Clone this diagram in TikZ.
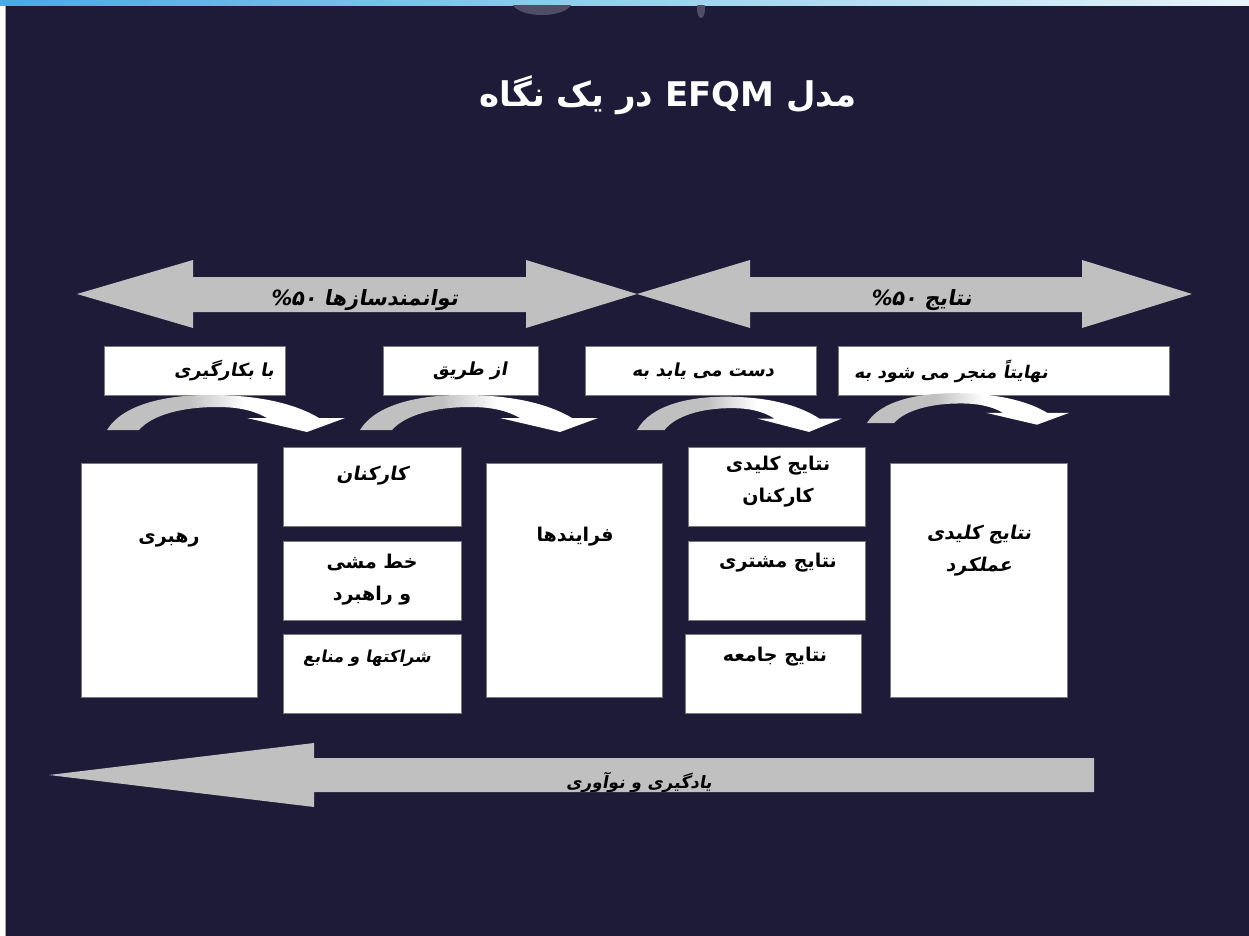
\documentclass[tikz,border=0pt]{standalone}
\usepackage{fontspec}
\TeXXeTstate=1
\newfontfamily\fa[Script=Arabic]{DejaVu Sans}
\newfontfamily\fait[Script=Arabic,FakeSlant=0.18]{DejaVu Sans}
\definecolor{bgnavy}{RGB}{30,27,56}
\definecolor{silv}{RGB}{192,192,192}
\definecolor{boxgray}{RGB}{120,120,120}
\definecolor{topblue}{RGB}{70,172,226}
\definecolor{toplight}{RGB}{232,244,250}
\definecolor{blobgray}{RGB}{80,78,100}
\pgfdeclarehorizontalshading{curvsh}{100bp}{color(0bp)=(silv); color(42bp)=(silv); color(54bp)=(white); color(100bp)=(white)}
\newcommand\curvarrow[4]{%
  \begin{scope}[shift={(#1,#2)},xscale=#3,yscale=#4]
    \shade[shading=curvsh] (0,0) .. controls (16,-26) and (60,-36) .. (110,-35)
      .. controls (160,-34) and (192,-24) .. (212,-12) -- (238,-12) -- (200,2)
      -- (140,-12) -- (160,-12) .. controls (146,-20) and (130,-23) .. (110,-23)
      .. controls (75,-23) and (45,-15) .. (32,0) -- cycle;
  \end{scope}}
\begin{document}
\begin{tikzpicture}[x=1pt,y=-1pt,
  lbox/.style={draw=boxgray, line width=1pt, fill=white, inner sep=0pt, anchor=north west},
  ltext/.style={text=black, inner sep=0pt, font={\fait\bfseries\fontsize{18}{20}\selectfont}},
  mtext/.style={text=black, inner sep=0pt, align=center, font={\fa\bfseries\fontsize{19}{32}\selectfont}},
  mtextit/.style={text=black, inner sep=0pt, align=center, font={\fait\bfseries\fontsize{19}{32}\selectfont}},
  atext/.style={text=black, inner sep=0pt, font={\fait\bfseries\fontsize{21}{24}\selectfont}}]
\useasboundingbox (0,0) rectangle (1249,936);
% background
\fill[white] (0,0) rectangle (1249,936);
\shade[left color=topblue, right color=toplight] (0,0) rectangle (1249,6);
\fill[bgnavy] (5,6) rectangle (1249,936);
\draw[gray!70, line width=1pt] (5,6) -- (5,936);
\begin{scope}
  \clip (6,6) rectangle (1249,40);
  \fill[blobgray] (542,2) ellipse [x radius=30, y radius=13];
  \fill[blobgray] (701,9) ellipse [x radius=4, y radius=9];
\end{scope}
% title
\node[text=white, inner sep=0pt, font={\fa\bfseries\fontsize{34}{40}\selectfont}] (title) at (668,95)
  {\beginR مدل \beginL EFQM\endL{} در یک نگاه\endR};
% big double arrows
\fill[silv] (77,294) -- (193,260) -- (193,277) -- (526,277) -- (526,260) -- (637,294)
  -- (526,328) -- (526,312) -- (193,312) -- (193,328) -- cycle;
\fill[silv] (637,294) -- (750,260) -- (750,277) -- (1082,277) -- (1082,260) -- (1192,294)
  -- (1082,328) -- (1082,312) -- (750,312) -- (750,328) -- cycle;
\node[atext] (enab) at (364,300) {\beginR توانمندسازها \beginL\%۵۰\endL\endR};
\node[atext] (resl) at (921,300) {\beginR نتایج \beginL\%۵۰\endL\endR};
% label boxes
\node[lbox, minimum width=181pt, minimum height=49pt] (b1) at (104,346) {};
\node[lbox, minimum width=155pt, minimum height=49pt] (b2) at (383,346) {};
\node[lbox, minimum width=231pt, minimum height=49pt] (b3) at (585,346) {};
\node[lbox, minimum width=331pt, minimum height=49pt] (b4) at (838,346) {};
\node[ltext] (t1) at (224,371) {\beginR با بکارگیری\endR};
\node[ltext] (t2) at (470,371) {\beginR از طریق\endR};
\node[ltext] (t3) at (703,371) {\beginR دست می یابد به\endR};
\node[ltext, font={\fait\bfseries\fontsize{17.5}{20}\selectfont}] (t4) at (951,371) {\beginR نهایتاً منجر می شود به\endR};
% curved arrows
\curvarrow{107}{430}{1}{1}
\curvarrow{360}{430}{1}{1}
\curvarrow{637}{430}{0.86}{0.95}
\curvarrow{867}{423}{0.85}{0.85}
% main boxes
\node[lbox, minimum width=176pt, minimum height=234pt] (lead) at (81,463) {};
\node[lbox, minimum width=178pt, minimum height=79pt] (peop) at (283,447) {};
\node[lbox, minimum width=178pt, minimum height=79pt] (poli) at (283,541) {};
\node[lbox, minimum width=178pt, minimum height=79pt] (part) at (283,634) {};
\node[lbox, minimum width=176pt, minimum height=234pt] (proc) at (486,463) {};
\node[lbox, minimum width=177pt, minimum height=79pt] (pres) at (688,447) {};
\node[lbox, minimum width=177pt, minimum height=79pt] (cres) at (688,541) {};
\node[lbox, minimum width=176pt, minimum height=79pt] (sres) at (685,634) {};
\node[lbox, minimum width=177pt, minimum height=234pt] (kpr) at (890,463) {};
\node[mtext] (tlead) at (169,540) {\beginR رهبری\endR};
\node[mtextit] (tpeop) at (372,476) {\beginR کارکنان\endR};
\node[mtext] (tpoli) at (372,580) {\beginR خط مشی\endR\\\beginR و راهبرد\endR};
\node[mtextit, font={\fait\bfseries\fontsize{16.5}{20}\selectfont}] (tpart) at (367,658) {\beginR شراکتها و منابع\endR};
\node[mtext] (tproc) at (575,537) {\beginR فرایندها\endR};
\node[mtext] (tpres) at (778,482) {\beginR نتایج کلیدی\endR\\\beginR کارکنان\endR};
\node[mtext] (tcres) at (778,563) {\beginR نتایج مشتری\endR};
\node[mtext] (tsres) at (775,657) {\beginR نتایج جامعه\endR};
\node[mtextit] (tkpr) at (979,551) {\beginR نتایج کلیدی\endR\\\beginR عملکرد\endR};
% bottom arrow
\fill[silv] (49,775) -- (314,743) -- (314,758) -- (1094,758) -- (1094,792) -- (314,792) -- (314,807) -- cycle;
\node[atext, font={\fait\bfseries\fontsize{17}{20}\selectfont}] (learn) at (639,782) {\beginR یادگیری و نوآوری\endR};
\end{tikzpicture}
\end{document}
